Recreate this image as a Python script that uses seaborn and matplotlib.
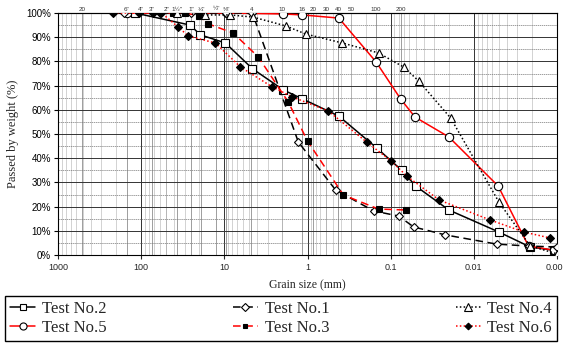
import numpy as np
import pandas as pd
import matplotlib
matplotlib.use('Agg')
import matplotlib.pyplot as plt
import matplotlib.ticker as mticker
import seaborn as sns

# === Data (grain size in mm, passing in %) === #
test2_size = [118, 25.7, 19.5, 9.7, 4.6, 1.95, 1.15, 0.42, 0.147, 0.074, 0.050, 0.020, 0.005, 0.0021, 0.0011]
test2_pass = [100, 95, 91, 87.6, 77, 68.2, 64.5, 57.4, 44.2, 35.1, 28.5, 18.6, 9.5, 3.3, 2.0]

test1_size = [160, 60, 25, 9.5, 4.6, 1.29, 0.46, 0.16, 0.080, 0.053, 0.022, 0.0053, 0.0022, 0.001]
test1_pass = [100, 100, 100, 100, 100, 46.7, 26.9, 18.2, 16.1, 11.6, 8.3, 4.5, 3.7, 3.3]

test4_size = [37.5, 17, 8.5, 4.5, 1.8, 1.05, 0.38, 0.14, 0.070, 0.046, 0.019, 0.0050, 0.0021, 0.001]
test4_pass = [100, 99.2, 99.2, 98.3, 94.6, 91.3, 87.6, 83.5, 77.7, 71.9, 56.6, 21.9, 3.7, 0.5]

test5_size = [150, 9.2, 1.95, 1.15, 0.42, 0.15, 0.076, 0.051, 0.020, 0.0051, 0.0022, 0.0011]
test5_pass = [100, 100, 99.6, 99.2, 97.9, 79.8, 64.5, 57.0, 48.8, 28.5, 3.7, 2.0]

test3_size = [41, 29.5, 20, 15.6, 7.8, 3.9, 1.7, 1.0, 0.37, 0.14, 0.066]
test3_pass = [100, 100, 98.8, 95.5, 91.7, 81.8, 63.2, 47.1, 24.8, 19.0, 18.6]

test6_size = [217, 106, 72, 57, 35.8, 27.2, 12.8, 6.4, 2.64, 1.52, 0.56, 0.195, 0.098, 0.064, 0.026, 0.0064, 0.0025, 0.0012]
test6_pass = [100, 100, 100, 100, 94.2, 90.5, 87.6, 77.7, 69.4, 65.3, 59.5, 46.7, 38.8, 32.6, 22.7, 14.5, 9.5, 7.0]

# sieve openings (mm) and their labels for the top axis
sieve_size = [508, 150, 100, 75, 50, 37.5, 25, 19, 12.5, 9.5, 4.75, 2, 1.18, 0.85, 0.6, 0.425, 0.3, 0.15, 0.075]
sieve_label = ['20', '6"', '4"', '3"', '2"', '1½"', '1"', '¾"', '½"', '⅜"', '4',
               '10', '16', '20', '30', '40', '50', '100', '200']

x_ticks = [1000, 100, 10, 1, 0.1, 0.01, 0.001]
x_tick_labels = ['1000', '100', '10', '1', '0.1', '0.01', '0.001']

sns.set_style('white')
serif = ['Liberation Serif', 'DejaVu Serif']
sans = ['Liberation Sans', 'DejaVu Sans']
plt.rcParams['font.family'] = sans

fig = plt.figure(figsize=(5.63, 3.43), dpi=100)
ax = fig.add_axes([58 / 563, 1 - 255 / 343, 499 / 563, 242 / 343])
ax.set_xscale('log')

# series: (label, sizes, passing, line colour, linestyle, marker, face colour, marker size)
series = [
    ('Test No.2', test2_size, test2_pass, 'black', '-', 's', 'white', 5.5),
    ('Test No.5', test5_size, test5_pass, 'red', '-', 'o', 'white', 6),
    ('Test No.1', test1_size, test1_pass, 'black', (0, (5, 3)), 'D', 'white', 4.5),
    ('Test No.3', test3_size, test3_pass, 'red', (0, (5, 3)), 's', 'black', 4),
    ('Test No.4', test4_size, test4_pass, 'black', (0, (1, 1.5)), '^', 'white', 6),
    ('Test No.6', test6_size, test6_pass, 'red', (0, (1, 1.5)), 'D', 'black', 4),
]

for label, size, passing, color, ls, marker, face, ms in series:
    df = pd.DataFrame({'size': size, 'pass': passing})
    sns.lineplot(data=df, x='size', y='pass', ax=ax, sort=False, estimator=None,
                 color=color, linestyle=ls, linewidth=1.1, marker=marker,
                 markerfacecolor=face, markeredgecolor='black', markeredgewidth=0.8,
                 markersize=ms, label=label, zorder=3)

# axes limits, reversed log x
ax.set_xlim(1000, 0.001)
ax.set_ylim(0, 100)
ax.set_xticks(x_ticks)
ax.set_xticklabels(x_tick_labels)
ax.xaxis.set_minor_locator(mticker.LogLocator(base=10, subs=np.arange(2, 10)))
ax.xaxis.set_minor_formatter(mticker.NullFormatter())
ax.set_yticks(np.arange(0, 101, 10))
ax.yaxis.set_major_formatter(mticker.FuncFormatter(lambda v, p: f'{v:.0f}%'))
ax.yaxis.set_minor_locator(mticker.MultipleLocator(5))
ax.tick_params(axis='x', which='major', labelsize=6.5, length=3, pad=3, direction='out', bottom=True)
ax.tick_params(axis='x', which='minor', length=0)
ax.tick_params(axis='y', which='major', labelsize=7, length=3, pad=2, left=True, colors='black')
ax.tick_params(axis='y', which='minor', length=0)

# grid
ax.grid(which='major', axis='y', color='#333333', linewidth=0.7)
ax.grid(which='minor', axis='y', color='#777777', linewidth=0.5, linestyle=(0, (2, 1)))
ax.grid(which='major', axis='x', color='#333333', linewidth=0.7)
ax.grid(which='minor', axis='x', color='#c0c0c0', linewidth=0.5)
for s in sieve_size:
    ax.axvline(s, color='#777777', linewidth=0.5, zorder=0.5)
ax.set_axisbelow(True)
for sp in ax.spines.values():
    sp.set_color('black')
    sp.set_linewidth(0.8)

# top axis with sieve numbers
top = ax.secondary_xaxis('top')
top.set_xticks(sieve_size)
top.set_xticklabels(sieve_label)
top.xaxis.set_minor_locator(mticker.NullLocator())
top.tick_params(axis='x', labelsize=4.5, length=0, pad=1, colors='#333333')

ax.set_xlabel('Grain size (mm)', family=serif, fontsize=8.5, labelpad=5)
ax.set_ylabel('Passed by weight (%)', family=serif, fontsize=9, labelpad=5)

# legend boxed below the plot
handles, labels = ax.get_legend_handles_labels()
ax.get_legend().remove()
leg = fig.legend(handles, labels, ncol=3, loc='lower left',
                 bbox_to_anchor=(5 / 563, 2 / 343, 552 / 563, 49 / 343), mode='expand',
                 frameon=True, fancybox=False, edgecolor='black', framealpha=1,
                 prop={'family': serif, 'size': 12}, handlelength=1.5, handletextpad=0.4,
                 labelspacing=0.2, borderpad=0.3, borderaxespad=0, markerscale=0.85)
leg.get_frame().set_linewidth(1.0)

fig.savefig('out.png', dpi=100)
